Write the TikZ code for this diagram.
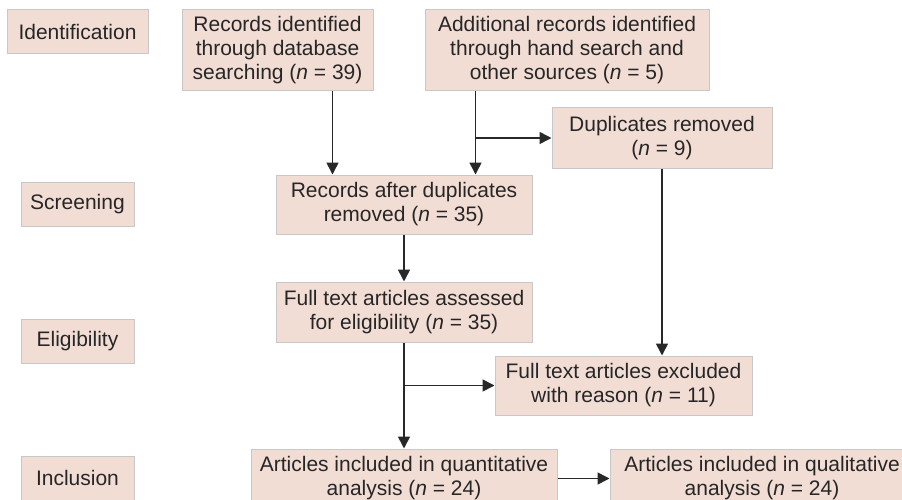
\documentclass[tikz,border=0pt]{standalone}
\usepackage{fontspec}
\setmainfont{Liberation Sans}
\usepackage{xcolor}
\usetikzlibrary{arrows.meta}
\definecolor{boxfill}{RGB}{242,221,213}
\definecolor{boxline}{RGB}{200,200,200}
\definecolor{arrline}{RGB}{40,40,40}
\tikzset{
  stage/.style={draw=boxline, fill=boxfill, line width=1pt, inner sep=0pt, align=center,
    font=\fontsize{21}{24}\selectfont, text=black!85},
  arr/.style={draw=arrline, line width=1.6pt, -{Triangle[length=12pt,width=12pt]}}
}
\newcommand{\nn}{\textit{n}}
\begin{document}
\begin{tikzpicture}[x=1pt,y=-1pt]
\useasboundingbox (0,0) rectangle (902,500);
\clip (0,0) rectangle (902,500);
% phase labels
\node[stage, minimum width=141pt, minimum height=44pt] (ident) at (77.5,32) {Identification};
\node[stage, minimum width=113pt, minimum height=44pt] (screen) at (77.5,204) {Screening};
\node[stage, minimum width=113pt, minimum height=44pt] (elig) at (77.5,341) {Eligibility};
\node[stage, minimum width=113pt, minimum height=44pt] (incl) at (77.5,478) {Inclusion};
% flow boxes
\node[stage, minimum width=191pt, minimum height=81pt] (dbrec) at (277.5,50.5)
  {Records identified\\through database\\searching (\nn{} = 39)};
\node[stage, minimum width=284pt, minimum height=81pt] (addrec) at (567,50.5)
  {Additional records identified\\through hand search and\\other sources (\nn{} = 5)};
\node[stage, minimum width=220pt, minimum height=60pt] (dup) at (662,138)
  {Duplicates removed\\(\nn{} = 9)};
\node[stage, minimum width=256pt, minimum height=59pt] (afterdup) at (404,204.5)
  {Records after duplicates\\removed (\nn{} = 35)};
\node[stage, minimum width=256pt, minimum height=60pt] (fulltext) at (404,312)
  {Full text articles assessed\\for eligibility (\nn{} = 35)};
\node[stage, minimum width=257pt, minimum height=59pt] (excl) at (623.5,385.5)
  {Full text articles excluded\\with reason (\nn{} = 11)};
\node[stage, minimum width=306pt, minimum height=59pt] (quant) at (404,478.5)
  {Articles included in quantitative\\analysis (\nn{} = 24)};
\node[stage, minimum width=304pt, minimum height=59pt] (qual) at (762,478.5)
  {Articles included in qualitative\\analysis (\nn{} = 24)};
% connectors
\coordinate (dbout) at ([xshift=-41pt]dbrec.south east);
\coordinate (addout) at ([xshift=51pt]addrec.south west);
\draw[arr] (dbout) -- (dbout |- afterdup.north);
\draw[arr] (addout) -- (addout |- afterdup.north);
\draw[arr] (addout |- dup.west) -- (dup.west);
\draw[arr] (dup.south) -- (dup.south |- excl.north);
\draw[arr] (afterdup.south) -- (fulltext.north);
\draw[arr] (fulltext.south) -- (quant.north);
\draw[arr] (fulltext.south |- excl.west) -- (excl.west);
\draw[arr] (quant.east) -- (qual.west);
\end{tikzpicture}
\end{document}
